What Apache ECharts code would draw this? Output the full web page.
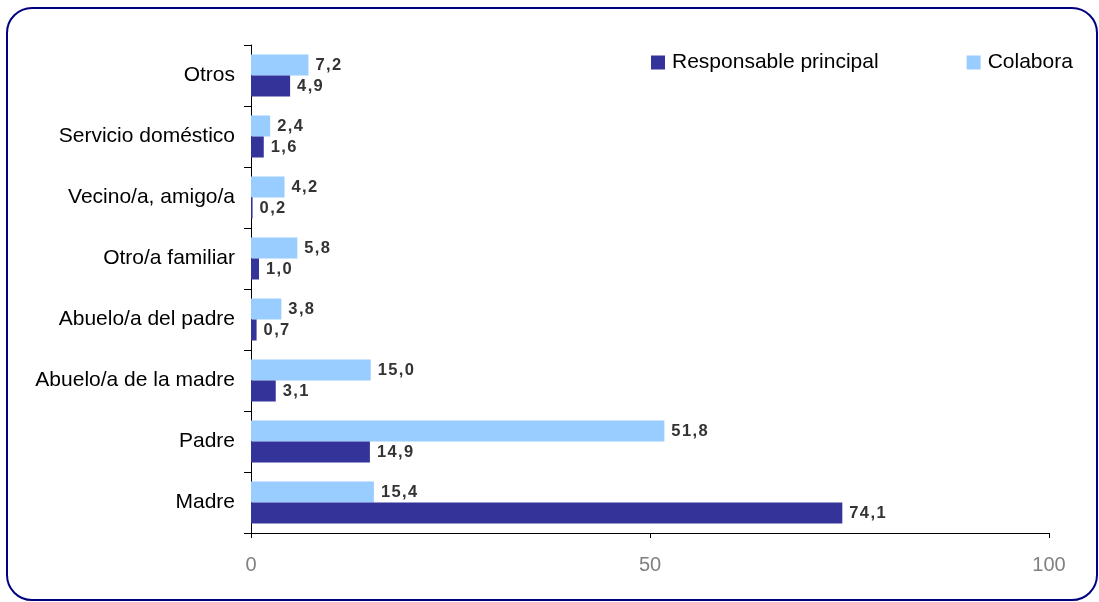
<!DOCTYPE html>
<html>
<head>
<meta charset="utf-8">
<script src="https://cdn.jsdelivr.net/npm/echarts@6/dist/echarts.min.js"></script>
<style>html,body{margin:0;padding:0;background:#fff}#c{width:1099px;height:602px}</style>
</head>
<body>
<div id="c"></div>
<script>
const categories = ["Madre", "Padre", "Abuelo/a de la madre", "Abuelo/a del padre", "Otro/a familiar", "Vecino/a, amigo/a", "Servicio doméstico", "Otros"];
const responsable = [74.1, 14.9, 3.1, 0.7, 1.0, 0.2, 1.6, 4.9];
const colabora = [15.4, 51.8, 15.0, 3.8, 5.8, 4.2, 2.4, 7.2];
const seriesNames = ["Responsable principal", "Colabora"];
const xTicks = [0, 50, 100];

const FONT = 'Liberation Sans, Arial, sans-serif';
const fmt = p => p.value.toFixed(1).replace('.', ',').split('').join('\u200A');
const labelStyle = {show: true, position: 'right', distance: 7, formatter: fmt,
  fontFamily: FONT, fontSize: 16.5, fontWeight: 'bold', color: '#333333'};

const chart = echarts.init(document.getElementById('c'), null, {renderer: 'canvas'});
chart.setOption({
  animation: false,
  graphic: [{type: 'rect', shape: {x: 7, y: 8, width: 1090, height: 592, r: 25}, style: {fill: 'none', stroke: '#000080', lineWidth: 2}, z: -1}],
  legend: {left: 646, top: 47, itemWidth: 14, itemHeight: 14, itemGap: 88,
    icon: 'rect', data: seriesNames,
    textStyle: {fontFamily: FONT, fontSize: 21, color: '#000', padding: [0, 0, 0, 2]}},
  grid: {left: 251, right: 50, top: 45, bottom: 69, containLabel: false},
  xAxis: {type: 'value', min: xTicks[0], max: xTicks[xTicks.length - 1], interval: 50,
    axisLine: {show: true, lineStyle: {color: '#000', width: 1}},
    axisTick: {show: true, length: 5, lineStyle: {color: '#000'}},
    splitLine: {show: false},
    axisLabel: {margin: 22, fontFamily: FONT, fontSize: 20, color: '#808080'}},
  yAxis: {type: 'category', data: categories,
    axisLine: {show: true, lineStyle: {color: '#000', width: 1}},
    axisTick: {show: true, length: 7, lineStyle: {color: '#000'}},
    axisLabel: {margin: 16, fontFamily: FONT, fontSize: 21, color: '#000'}},
  series: [
    {name: seriesNames[1], type: 'bar', data: colabora, itemStyle: {color: '#99CCFF'},
     barWidth: 21, barGap: '0%', label: labelStyle},
    {name: seriesNames[0], type: 'bar', data: responsable, itemStyle: {color: '#333399'},
     barWidth: 21, barGap: '0%', label: labelStyle}
  ]
});
</script>
</body>
</html>
